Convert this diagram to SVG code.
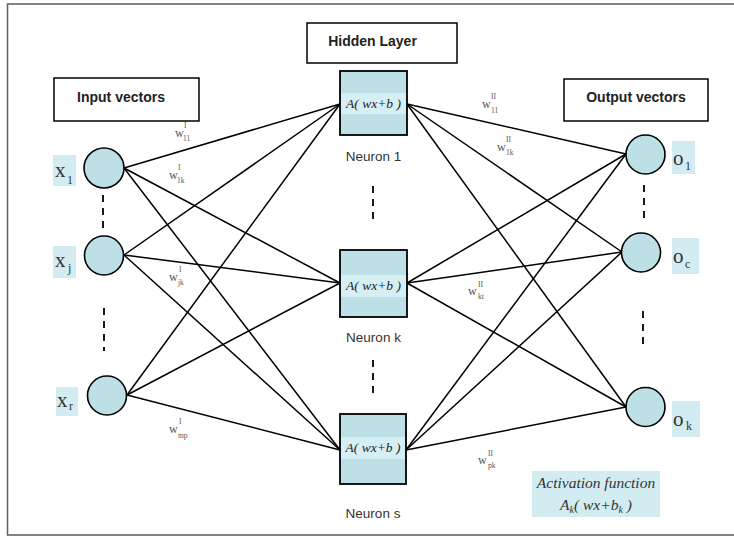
<svg xmlns="http://www.w3.org/2000/svg" width="734" height="536" viewBox="0 0 734 536">
<style>
.hdr{fill:#fff;stroke:#000;stroke-width:1.5}
.hdrt{font-family:"Liberation Sans",Arial,sans-serif;font-weight:bold;font-size:14px;fill:#222;text-anchor:middle}
.cir{fill:#bce0e5;stroke:#000;stroke-width:1.6}
.lbl{fill:#d3ecf2}
.lt{font-family:"Liberation Serif","Times New Roman",serif;fill:#333}
.box{fill:#bce0e5;stroke:#000;stroke-width:1.8}
.band{fill:#d6eff5}
.fx{font-family:"Liberation Serif","Times New Roman",serif;font-style:italic;font-size:13.5px;fill:#222;text-anchor:middle}
.fa{font-family:"Liberation Serif","Times New Roman",serif;font-style:italic;font-size:15.5px;fill:#333;text-anchor:middle}
.nt{font-family:"Liberation Sans",Arial,sans-serif;font-size:13.5px;fill:#333;text-anchor:middle}
.w{font-family:"Liberation Serif","Times New Roman",serif;fill:#555;font-size:12px}
.ws{font-family:"Liberation Serif","Times New Roman",serif;fill:#555;font-size:7.5px}
.dash{stroke:#000;stroke-width:1.8;stroke-dasharray:7 6;fill:none}
#connectors line{stroke:#000;stroke-width:1.5}
</style>
<rect x="7.5" y="4" width="740" height="531" fill="#fff" stroke="#666" stroke-width="1.6"/>

<g id="connectors">
<line x1="124" y1="168" x2="340" y2="104"/>
<line x1="124" y1="168" x2="340" y2="283"/>
<line x1="124" y1="168" x2="340" y2="450"/>
<line x1="124" y1="255" x2="340" y2="104"/>
<line x1="124" y1="255" x2="340" y2="283"/>
<line x1="124" y1="255" x2="340" y2="450"/>
<line x1="127" y1="395" x2="340" y2="104"/>
<line x1="127" y1="395" x2="340" y2="283"/>
<line x1="127" y1="395" x2="340" y2="450"/>
<line x1="407" y1="104" x2="626" y2="154"/>
<line x1="407" y1="104" x2="622" y2="252"/>
<line x1="407" y1="104" x2="626" y2="407"/>
<line x1="407" y1="283" x2="626" y2="154"/>
<line x1="407" y1="283" x2="622" y2="252"/>
<line x1="407" y1="283" x2="626" y2="407"/>
<line x1="406" y1="450" x2="626" y2="154"/>
<line x1="406" y1="450" x2="622" y2="252"/>
<line x1="406" y1="450" x2="626" y2="407"/>
</g>

<g id="dashes">
<line class="dash" x1="103" y1="195" x2="103" y2="229"/>
<line class="dash" x1="104" y1="308" x2="104" y2="351"/>
<line class="dash" x1="373" y1="186" x2="373" y2="222"/>
<line class="dash" x1="373" y1="360" x2="373" y2="394"/>
<line class="dash" x1="644" y1="185" x2="644" y2="221"/>
<line class="dash" x1="643" y1="311" x2="643" y2="345"/>
</g>

<g id="input-header">
<rect class="hdr" x="54" y="78" width="145" height="43"/>
<text class="hdrt" x="121" y="102">Input vectors</text>
</g>
<g id="hidden-header">
<rect class="hdr" x="307" y="23" width="150" height="40"/>
<text class="hdrt" x="372.5" y="46">Hidden Layer</text>
</g>
<g id="output-header">
<rect class="hdr" x="564" y="79" width="144" height="42"/>
<text class="hdrt" x="636" y="102">Output vectors</text>
</g>

<g id="x1">
<rect class="lbl" x="53" y="155" width="23" height="31"/>
<text class="lt" x="55" y="177" font-size="21">x</text>
<text class="lt" x="67" y="184" font-size="12">1</text>
<circle class="cir" cx="104" cy="168" r="20"/>
</g>
<g id="xj">
<rect class="lbl" x="53" y="246" width="23" height="32"/>
<text class="lt" x="55" y="267" font-size="21">x</text>
<text class="lt" x="68" y="272" font-size="12">j</text>
<circle class="cir" cx="104" cy="255.5" r="19.5"/>
</g>
<g id="xr">
<rect class="lbl" x="56" y="387" width="22" height="29"/>
<text class="lt" x="57" y="407" font-size="21">x</text>
<text class="lt" x="69" y="410" font-size="12">r</text>
<circle class="cir" cx="107" cy="395.5" r="19.5"/>
</g>

<g id="neuron1">
<rect class="box" x="340" y="71" width="67" height="64"/>
<rect class="band" x="341" y="93" width="65" height="21"/>
<text class="fx" x="373.5" y="108">A( wx+b )</text>
<text class="nt" x="373.5" y="161">Neuron 1</text>
</g>
<g id="neuronk">
<rect class="box" x="340" y="250" width="67" height="67"/>
<rect class="band" x="341" y="275" width="65" height="22"/>
<text class="fx" x="373.5" y="290">A( wx+b )</text>
<text class="nt" x="373.5" y="342">Neuron k</text>
</g>
<g id="neurons">
<rect class="box" x="340" y="414" width="66" height="70"/>
<rect class="band" x="341" y="437" width="64" height="22"/>
<text class="fx" x="373" y="452">A( wx+b )</text>
<text class="nt" x="373" y="518">Neuron s</text>
</g>

<g id="o1">
<circle class="cir" cx="645.5" cy="154.5" r="19.5"/>
<rect class="lbl" x="672" y="141" width="23" height="33"/>
<text class="lt" x="673" y="165" font-size="21">o</text>
<text class="lt" x="685" y="170" font-size="12">1</text>
</g>
<g id="oc">
<circle class="cir" cx="641" cy="252.5" r="19.5"/>
<rect class="lbl" x="672" y="238" width="27" height="36"/>
<text class="lt" x="673" y="263" font-size="21">o</text>
<text class="lt" x="685" y="268" font-size="12">c</text>
</g>
<g id="ok">
<circle class="cir" cx="645.5" cy="407" r="19.5"/>
<rect class="lbl" x="672" y="401" width="28" height="36"/>
<text class="lt" x="673" y="426" font-size="21">o</text>
<text class="lt" x="686" y="430" font-size="12">k</text>
</g>

<g id="weights">
<text class="w" x="175" y="137">w</text><text class="ws" x="184" y="128">I</text><text class="ws" x="183" y="141">11</text>
<text class="w" x="169" y="179">w</text><text class="ws" x="178" y="170">I</text><text class="ws" x="177" y="183">1k</text>
<text class="w" x="169" y="281">w</text><text class="ws" x="179" y="272">I</text><text class="ws" x="178" y="285">jk</text>
<text class="w" x="169" y="433">w</text><text class="ws" x="179" y="424">I</text><text class="ws" x="178" y="438">mp</text>
<text class="w" x="482" y="108">w</text><text class="ws" x="491" y="99">II</text><text class="ws" x="491" y="113">11</text>
<text class="w" x="497" y="151">w</text><text class="ws" x="506" y="142">II</text><text class="ws" x="506" y="155">1k</text>
<text class="w" x="468" y="295">w</text><text class="ws" x="478" y="287">II</text><text class="ws" x="478" y="299">kt</text>
<text class="w" x="478" y="464">w</text><text class="ws" x="488" y="456">II</text><text class="ws" x="488" y="468">pk</text>
</g>

<g id="activation">
<rect class="lbl" x="532" y="471" width="128" height="46"/>
<text class="fa" x="596" y="488">Activation function</text>
<text class="fa" x="596" y="510">A<tspan font-size="10" dy="3">k</tspan><tspan dy="-3">( wx+b</tspan><tspan font-size="10" dy="3">k</tspan><tspan dy="-3">  )</tspan></text>
</g>
</svg>
